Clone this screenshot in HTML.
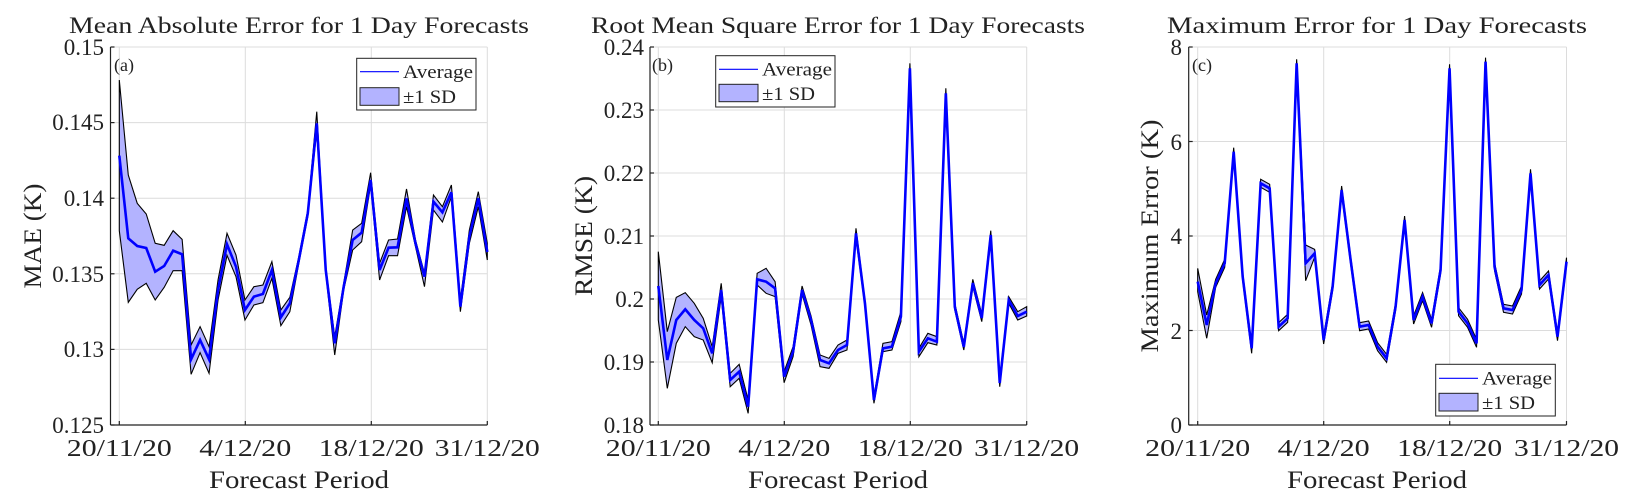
<!DOCTYPE html>
<html><head><meta charset="utf-8"><style>
html,body{margin:0;padding:0;background:#fff;}
svg{display:block;font-family:"Liberation Serif",serif;}
</style></head><body>
<svg id="s" width="1633" height="504" viewBox="0 0 1633 504" xmlns="http://www.w3.org/2000/svg">
<rect width="1633" height="504" fill="#fff"/>
<g id="grid" stroke="#dcdcdc" stroke-width="1" fill="none"></g>
<g id="data"></g>
<g id="axes" stroke="#222" stroke-width="1.2" fill="none"></g>
<g fill="#222" font-size="22">
<text x="299" y="33" text-anchor="middle" font-size="23" textLength="460" lengthAdjust="spacingAndGlyphs">Mean Absolute Error for 1 Day Forecasts</text>
<text x="838" y="33" text-anchor="middle" font-size="23" textLength="494" lengthAdjust="spacingAndGlyphs">Root Mean Square Error for 1 Day Forecasts</text>
<text x="1377" y="33" text-anchor="middle" font-size="23" textLength="420" lengthAdjust="spacingAndGlyphs">Maximum Error for 1 Day Forecasts</text>
<g text-anchor="end" font-size="23">
<text x="104" y="55">0.15</text>
<text x="104" y="130">0.145</text>
<text x="104" y="206">0.14</text>
<text x="104" y="282">0.135</text>
<text x="104" y="357">0.13</text>
<text x="104" y="433">0.125</text>
<text x="644" y="55">0.24</text>
<text x="644" y="118">0.23</text>
<text x="644" y="181">0.22</text>
<text x="644" y="244">0.21</text>
<text x="644" y="307">0.2</text>
<text x="644" y="370">0.19</text>
<text x="644" y="433">0.18</text>
<text x="1182" y="55">8</text>
<text x="1182" y="150">6</text>
<text x="1182" y="244">4</text>
<text x="1182" y="339">2</text>
<text x="1182" y="433">0</text>
</g>
<g text-anchor="middle" font-size="24">
<text x="119.3" y="456" textLength="105" lengthAdjust="spacingAndGlyphs">20/11/20</text>
<text x="245.3" y="456" textLength="92" lengthAdjust="spacingAndGlyphs">4/12/20</text>
<text x="371.3" y="456" textLength="105" lengthAdjust="spacingAndGlyphs">18/12/20</text>
<text x="487.3" y="456" textLength="105" lengthAdjust="spacingAndGlyphs">31/12/20</text>
<text x="658.3" y="456" textLength="105" lengthAdjust="spacingAndGlyphs">20/11/20</text>
<text x="784.3" y="456" textLength="92" lengthAdjust="spacingAndGlyphs">4/12/20</text>
<text x="910.3" y="456" textLength="105" lengthAdjust="spacingAndGlyphs">18/12/20</text>
<text x="1026.7" y="456" textLength="105" lengthAdjust="spacingAndGlyphs">31/12/20</text>
<text x="1197.7" y="456" textLength="105" lengthAdjust="spacingAndGlyphs">20/11/20</text>
<text x="1323.7" y="456" textLength="92" lengthAdjust="spacingAndGlyphs">4/12/20</text>
<text x="1449.7" y="456" textLength="105" lengthAdjust="spacingAndGlyphs">18/12/20</text>
<text x="1566.5" y="456" textLength="105" lengthAdjust="spacingAndGlyphs">31/12/20</text>
<text x="299" y="488" font-size="25" textLength="180" lengthAdjust="spacingAndGlyphs">Forecast Period</text>
<text x="838" y="488" font-size="25" textLength="180" lengthAdjust="spacingAndGlyphs">Forecast Period</text>
<text x="1377" y="488" font-size="25" textLength="180" lengthAdjust="spacingAndGlyphs">Forecast Period</text>
</g>
<text transform="translate(41,236) rotate(-90)" text-anchor="middle" font-size="25" textLength="105" lengthAdjust="spacingAndGlyphs">MAE (K)</text>
<text transform="translate(592,236) rotate(-90)" text-anchor="middle" font-size="25" textLength="120" lengthAdjust="spacingAndGlyphs">RMSE (K)</text>
<text transform="translate(1158,236) rotate(-90)" text-anchor="middle" font-size="25" textLength="233" lengthAdjust="spacingAndGlyphs">Maximum Error (K)</text>
<g font-size="18">
<text x="114" y="71">(a)</text>
<text x="652" y="71">(b)</text>
<text x="1192" y="71">(c)</text>
</g>
<g font-size="19">
<rect x="356.7" y="58.3" width="119.3" height="51.7" fill="#fff" stroke="#222" stroke-width="1"/>
<line x1="360" y1="71.7" x2="399" y2="71.7" stroke="#0000ff" stroke-width="1.2"/>
<rect x="360" y="87.7" width="39" height="17.6" fill="#b3b3ff" stroke="#222" stroke-width="1"/>
<text x="403" y="78" textLength="70" lengthAdjust="spacingAndGlyphs">Average</text>
<text x="403" y="103" textLength="53" lengthAdjust="spacingAndGlyphs">±1 SD</text>

<rect x="715.7" y="55.7" width="119.3" height="51.3" fill="#fff" stroke="#222" stroke-width="1"/>
<line x1="719" y1="69.3" x2="758" y2="69.3" stroke="#0000ff" stroke-width="1.2"/>
<rect x="719" y="84.3" width="39" height="17.4" fill="#b3b3ff" stroke="#222" stroke-width="1"/>
<text x="762" y="75.5" textLength="70" lengthAdjust="spacingAndGlyphs">Average</text>
<text x="762" y="100" textLength="53" lengthAdjust="spacingAndGlyphs">±1 SD</text>

<rect x="1435.7" y="364.3" width="119.6" height="51.7" fill="#fff" stroke="#222" stroke-width="1"/>
<line x1="1439" y1="378.3" x2="1478" y2="378.3" stroke="#0000ff" stroke-width="1.2"/>
<rect x="1439" y="393.3" width="39" height="17.7" fill="#b3b3ff" stroke="#222" stroke-width="1"/>
<text x="1482" y="384.5" textLength="70" lengthAdjust="spacingAndGlyphs">Average</text>
<text x="1482" y="409" textLength="53" lengthAdjust="spacingAndGlyphs">±1 SD</text>
</g>
</g>
</svg>
<script>
(function(){
var NS="http://www.w3.org/2000/svg";
function el(t,a,p){var e=document.createElementNS(NS,t);for(var k in a)e.setAttribute(k,a[k]);p.appendChild(e);return e;}
var grid=document.getElementById('grid'),axes=document.getElementById('axes'),data=document.getElementById('data');
var panels=[
 {L:110.5,R:487.3,xt:[119.3,245.3,371.3],yt:[47,122.6,198.2,273.8,349.4,425],x0:119.3,x1:487.3,oy:10,
  m:[437,685,708,714,785,768,722,733,1048,990,1048,840,703,770,900,860,852,780,922,880,750,610,340,780,1000,830,690,668,510,780,713,712,565,700,800,575,607,547,890,680,565,726],
  u:[210,495,580,612,700,706,662,688,1005,950,1010,810,670,735,870,830,825,755,900,862,740,600,305,770,980,820,660,640,488,760,690,687,537,690,790,555,590,525,870,660,545,700],
  l:[662,877,838,820,870,832,782,782,1093,1028,1090,870,736,800,930,885,878,805,947,905,760,620,360,790,1035,840,720,695,525,810,737,737,590,710,830,600,636,560,905,700,590,750]},
 {L:650,R:1026.7,xt:[658.3,784.3,910.3],yt:[47,110,173,236,299,362,425],x0:658.3,x1:1026.7,oy:10,
  m:[828,1050,930,898,930,955,1030,840,1110,1085,1190,808,815,835,1100,1025,840,930,1050,1060,1020,1005,670,880,1170,1015,1010,920,175,1025,985,995,250,891,1011,819,924,675,1119,870,918,905],
  u:[725,965,862,848,880,925,1010,820,1090,1063,1170,790,775,815,1085,1010,828,918,1035,1045,1005,990,655,870,1160,1000,995,905,160,1015,970,980,235,880,1000,808,912,662,1105,860,905,890],
  l:[930,1135,1000,950,980,990,1058,860,1130,1105,1210,825,850,860,1118,1040,852,945,1070,1075,1030,1020,685,890,1180,1025,1020,935,190,1040,998,1005,265,900,1020,830,935,688,1130,880,930,918]},
 {L:1188.7,R:1566.5,xt:[1197.7,1323.7,1449.7],yt:[47,141.5,236,330.5,425],x0:1197.7,x1:1566.5,oy:10,
  m:[815,945,820,760,425,800,1015,520,535,950,925,160,760,730,990,830,540,750,950,945,1010,1045,890,630,930,860,940,780,175,905,940,1000,155,770,895,900,840,490,825,795,980,755]}
];
var p3=panels[2];p3.u=p3.m.map(function(v){return v-12;});p3.l=p3.m.map(function(v){return v+12;});
p3.u[0]=775;p3.u[1]=915;p3.u[12]=705;p3.l[0]=845;p3.l[1]=985;p3.l[12]=812;p3.l[6]=1030;
panels.forEach(function(p){
 p.xt.forEach(function(x){el('line',{x1:x,y1:47,x2:x,y2:425},grid);});
 el('line',{x1:p.R,y1:47,x2:p.R,y2:425},grid);
 p.yt.forEach(function(y){el('line',{x1:p.L,y1:y,x2:p.R,y2:y},grid);});
 el('line',{x1:p.L,y1:425,x2:p.R,y2:425},axes);
 el('line',{x1:p.L,y1:47,x2:p.L,y2:425},axes);
 p.xt.concat([p.R]).forEach(function(x){el('line',{x1:x,y1:425,x2:x,y2:421},axes);});
 p.yt.forEach(function(y){el('line',{x1:p.L,y1:y,x2:p.L+4,y2:y},axes);});
 var dx=(p.x1-p.x0)/41;
 function pt(a,i){return (p.x0+dx*i).toFixed(2)+','+(p.oy+a[i]/3).toFixed(2);}
 var up=[],lo=[],mm=[];
 for(var i=0;i<42;i++){up.push(pt(p.u,i));mm.push(pt(p.m,i));}
 for(var i=41;i>=0;i--){lo.push(pt(p.l,i));}
 el('polygon',{points:up.concat(lo).join(' '),fill:'#b3b3ff',stroke:'#000','stroke-width':1.1,'stroke-linejoin':'miter'},data);
 el('polyline',{points:mm.join(' '),fill:'none',stroke:'#0000ff','stroke-width':2.6,'stroke-linejoin':'miter'},data);
});
})();
</script>
</body></html>
